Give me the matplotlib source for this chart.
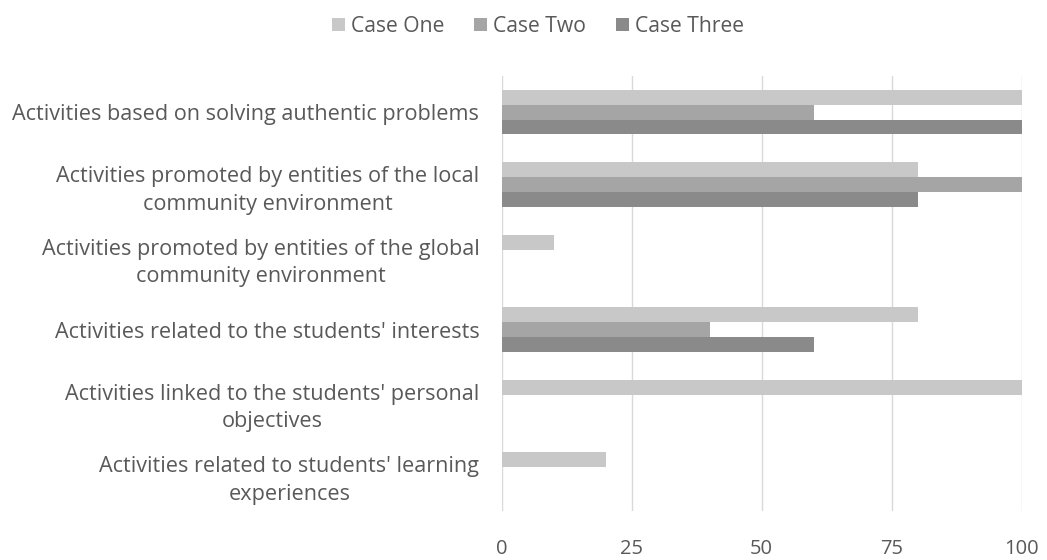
import numpy as np
import matplotlib.pyplot as plt

plt.rcParams['font.family'] = ['Open Sans', 'DejaVu Sans']

categories = [
    'Activities based on solving authentic problems',
    'Activities promoted by entities of the local\ncommunity environment',
    'Activities promoted by entities of the global\ncommunity environment',
    "Activities related to the students' interests",
    "Activities linked to the students' personal\nobjectives",
    "Activities related to students' learning\nexperiences",
]
case_one = [100, 80, 10, 80, 100, 20]
case_two = [60, 100, 0, 40, 0, 0]
case_three = [100, 80, 0, 60, 0, 0]
series_names = ['Case One', 'Case Two', 'Case Three']
colors = ['#c8c8c8', '#a5a5a5', '#8a8a8a']
text_color = '#595959'

fig = plt.figure(figsize=(10.47, 5.6), dpi=100)
ax = fig.add_axes([0.479, 0.0875, 0.497, 0.777])

y = np.arange(len(categories))
h = 0.205
for i, (vals, name) in enumerate(zip([case_one, case_two, case_three], series_names)):
    ax.barh(y + (i - 1) * h, vals, height=h, color=colors[i], label=name, zorder=2)

ax.set_ylim(len(categories) - 0.5, -0.5)
ax.set_xlim(0, 100)
ax.set_xticks([0, 25, 50, 75, 100])
ax.set_yticks(y)
ax.set_yticklabels(categories, fontsize=15.6, color=text_color, linespacing=1.4)
ax.tick_params(axis='x', labelsize=14.5, colors=text_color, length=0, pad=20)
ax.tick_params(axis='y', length=0, pad=16)
for lbl in ax.get_yticklabels():
    lbl.set_horizontalalignment('right')
    lbl.set_multialignment('center')
ax.grid(axis='x', color='#d9d9d9', linewidth=1, zorder=0)
for s in ax.spines.values():
    s.set_visible(False)

fig.legend(loc='upper center', bbox_to_anchor=(0.514, 1.005), ncol=3, frameon=False,
           fontsize=15.2, labelcolor=text_color, handlelength=0.6, handleheight=0.6,
           handletextpad=0.3, columnspacing=1.4)

fig.savefig('out.png', dpi=100)
